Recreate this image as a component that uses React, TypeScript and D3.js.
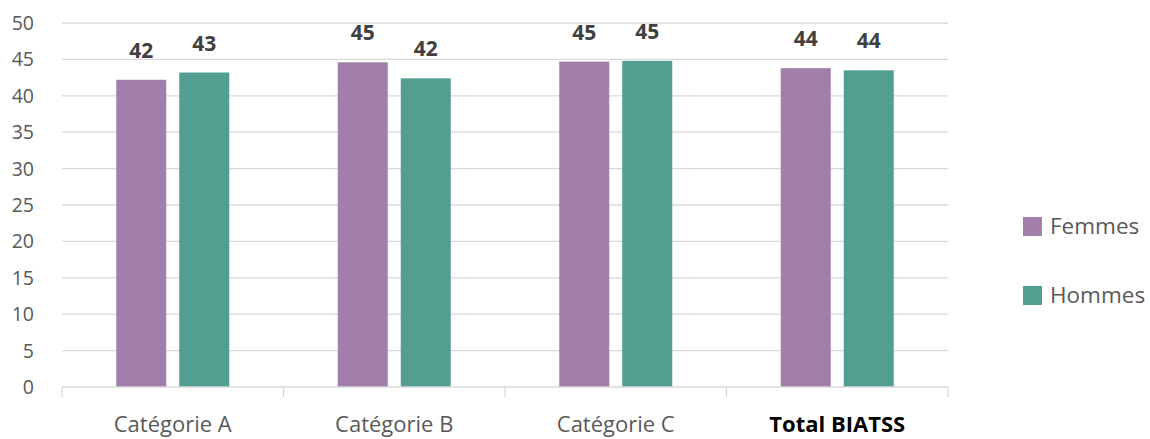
import React from "react";
import * as d3 from "d3";

const categories = ["Catégorie A", "Catégorie B", "Catégorie C", "Total BIATSS"];
const seriesNames = ["Femmes", "Hommes"];
const femmes = [42.2, 44.6, 44.7, 43.8];
const hommes = [43.2, 42.4, 44.8, 43.5];
const yTicks = [0, 5, 10, 15, 20, 25, 30, 35, 40, 45, 50];
const colors = ["#A27EAA", "#529E90"];

const W = 1150;
const H = 439;
const left = 62;
const right = 948;
const top = 23;
const bottom = 387;
const FONT = "'Open Sans', 'Noto Sans', sans-serif";

export default function App() {
  const x0 = d3.scaleBand<string>().domain(categories).range([left, right]).padding(0);
  const x1 = d3
    .scaleBand<string>()
    .domain(seriesNames)
    .range([0, x0.bandwidth()])
    .paddingInner(13 / 63)
    .paddingOuter(0.861);
  const y = d3.scaleLinear().domain([0, 50]).range([bottom, top]);
  const data = [femmes, hommes];
  const boundaries = [...categories.map((c) => x0(c)!), right];

  return (
    <div style={{ position: "absolute", left: 0, top: 0 }}>
      <svg width={W} height={H} style={{ display: "block" }}>
        <rect width={W} height={H} fill="#fff" />
        {yTicks.map((t) => (
          <g key={t}>
            {t > 0 && (
              <line x1={left} x2={right} y1={y(t)} y2={y(t)} stroke="#D9D9D9" strokeWidth={1.3} />
            )}
            <text
              x={34}
              y={y(t) + 7}
              textAnchor="end"
              fontFamily={FONT}
              fontSize={19.5}
              fill="#595959"
            >
              {t}
            </text>
          </g>
        ))}
        {categories.map((c, i) =>
          seriesNames.map((s, j) => {
            const v = data[j][i];
            const bx = x0(c)! + x1(s)!;
            return (
              <g key={c + s}>
                <rect
                  x={bx}
                  y={y(v)}
                  width={x1.bandwidth()}
                  height={bottom - y(v)}
                  fill={colors[j]}
                />
                <text
                  x={bx + x1.bandwidth() / 2}
                  y={y(v) - 22}
                  textAnchor="middle"
                  fontFamily={FONT}
                  fontWeight="bold"
                  fontSize={21}
                  fill="#404040"
                >
                  {Math.round(v)}
                </text>
              </g>
            );
          })
        )}
        <line x1={left} x2={right} y1={bottom} y2={bottom} stroke="#D9D9D9" strokeWidth={1.3} />
        {boundaries.map((b, i) => (
          <line key={i} x1={b} x2={b} y1={bottom} y2={bottom + 10} stroke="#D9D9D9" strokeWidth={1.3} />
        ))}
        {categories.map((c, i) => {
          const last = i === categories.length - 1;
          return (
            <text
              key={c}
              x={x0(c)! + x0.bandwidth() / 2}
              y={432}
              textAnchor="middle"
              fontFamily={FONT}
              fontSize={last ? 22 : 22}
              fontWeight={last ? "bold" : "normal"}
              fill={last ? "#000" : "#595959"}
            >
              {c}
            </text>
          );
        })}
        {seriesNames.map((s, j) => (
          <g key={s} transform={`translate(1023, ${217 + j * 69})`}>
            <rect width={19} height={19} fill={colors[j]} />
            <text x={27} y={16.5} fontFamily={FONT} fontSize={22.5} fill="#595959">
              {s}
            </text>
          </g>
        ))}
      </svg>
    </div>
  );
}
